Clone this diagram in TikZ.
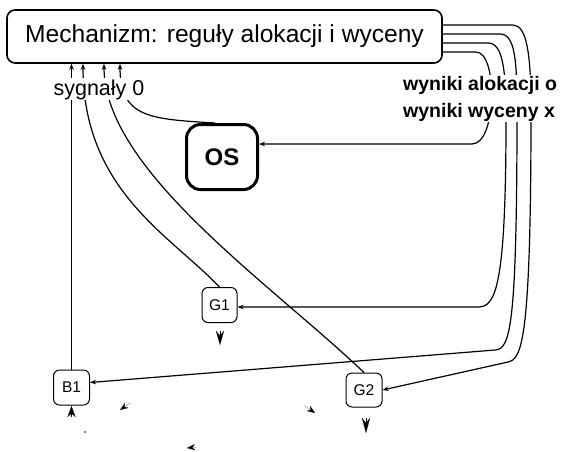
\documentclass[tikz,border=0pt]{standalone}
\usepackage{fontspec}
\setmainfont{Liberation Sans}
\usetikzlibrary{arrows.meta,calc}
\begin{document}
\begin{tikzpicture}[x=1pt,y=-1pt,
  conn/.style={line width=1.2pt,-{Stealth[length=6pt,width=4.5pt]}},
  smallbox/.style={draw,line width=1pt,rounded corners=6pt,minimum width=35pt,minimum height=35pt,inner sep=0pt,fill=white,font=\fontsize{15.5}{17}\selectfont},
  lbl/.style={fill=white,inner sep=1pt},
  bigtip/.style={line width=0.1pt,-{Stealth[length=#1,width=8pt]}},
  smalltip/.style={line width=0.1pt,-{Stealth[length=8pt,width=6pt]}}]
\useasboundingbox (0,0) rectangle (561,451);

\node[draw,line width=1.6pt,rounded corners=8pt,minimum width=435pt,minimum height=53pt,inner sep=0pt,
      font=\fontsize{24.6}{28}\selectfont] (M) at (224.5,36.5) {Mechanizm: reguły alokacji i wyceny};
\node[draw,line width=3pt,rounded corners=14pt,minimum width=71pt,minimum height=65pt,inner sep=0pt,
      font=\bfseries\fontsize{24}{28}\selectfont] (OS) at (222,157) {OS};
\node[smallbox] (G1) at (219.5,305) {G1};
\node[smallbox,minimum width=36pt] (B1) at (71.5,387.5) {B1};
\node[smallbox,minimum width=36pt,minimum height=34pt] (G2) at (364,390) {G2};

% signals into the mechanism
\draw[conn] (B1.north) -- (B1.north |- M.south);
\draw[conn] (G1.north) .. controls (170,235) and (83,190) .. (83,0 |- M.south);
\draw[conn] (G2.north) .. controls (270,283) and (104,170) .. (104,0 |- M.south);
\draw[conn] ($(OS.north)+(-7,0)$) .. controls (150,119) and (120,118) .. (120,0 |- M.south);

% results out of the mechanism
\draw[conn] ($(M.east)+(0,15.5)$) -- (476,52) .. controls (498,52) and (497,144) .. (472,144) -- ($(OS.east)+(0,-13)$);
\draw[conn] ($(M.east)+(0,6.5)$) -- (488,43) .. controls (503,43) and (506,70) .. (506,120)
   .. controls (506,290) and (495,307) .. (478,307) -- ($(G1.east)+(0,2)$);
\draw[conn] ($(M.east)+(0,-2.5)$) -- (500,34) .. controls (515,34) and (517,60) .. (517,110)
   .. controls (517,330) and (510,349) .. (495,350) -- ($(B1.east)+(0,-5)$);
\draw[conn] ($(M.east)+(0,-11.5)$) -- (513,25) .. controls (527,25) and (531,55) .. (531,110)
   .. controls (531,340) and (522,359) .. (508,362) -- (G2.east);

% labels
\node[lbl,anchor=base,font=\fontsize{21.5}{24}\selectfont] (syg) at (99,95) {sygnały 0};
\node[lbl,anchor=north west,align=left,font=\bfseries\fontsize{19.5}{27}\selectfont] (wyn) at (402,75) {wyniki alokacji o\\wyniki wyceny x};

% stray arrow heads
\coordinate (g1a) at (220,331); \coordinate (g1b) at (220,345);
\coordinate (g2a) at (366,418); \coordinate (g2b) at (366,433);
\coordinate (b1a) at (71.5,417); \coordinate (b1b) at (71.5,406);
\coordinate (s1a) at (130,403); \coordinate (s1b) at (120,410);
\coordinate (s2a) at (197,447); \coordinate (s2b) at (187,448);
\coordinate (s3a) at (305,406); \coordinate (s3b) at (315,413);
\draw[bigtip=14pt] (g1a) -- (g1b);
\draw[bigtip=15pt] (g2a) -- (g2b);
\draw[bigtip=11pt] (b1a) -- (b1b);
\draw[smalltip] (s1a) -- (s1b);
\draw[smalltip] (s2a) -- (s2b);
\draw[smalltip] (s3a) -- (s3b);
\fill (85,432) circle (0.9pt);
\end{tikzpicture}
\end{document}
